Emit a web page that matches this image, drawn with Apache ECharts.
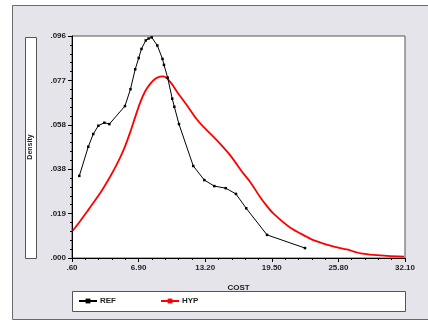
<!DOCTYPE html>
<html>
<head>
<meta charset="utf-8">
<script src="https://cdn.jsdelivr.net/npm/echarts@6/dist/echarts.min.js"></script>
<style>
html,body{margin:0;padding:0;background:#fff;}
#chart{width:428px;height:325px;}
</style>
</head>
<body>
<div id="chart"></div>
<script>
// REF series (cost, density)
const refX = [1.29, 2.14, 2.61, 3.09, 3.66, 4.13, 5.61, 6.13, 6.58, 6.91, 7.17, 7.58, 7.84, 8.14, 8.67, 9.16, 9.30, 9.65, 10.08, 10.28, 10.72, 12.07, 13.12, 14.06, 15.14, 16.11, 17.08, 19.05, 22.64];
const refY = [0.0355, 0.0481, 0.0536, 0.0572, 0.0585, 0.0579, 0.0657, 0.0730, 0.0816, 0.0865, 0.0904, 0.0941, 0.0949, 0.0954, 0.0919, 0.0861, 0.0835, 0.0780, 0.0689, 0.0654, 0.0579, 0.0398, 0.0337, 0.0311, 0.0302, 0.0277, 0.0215, 0.0100, 0.0043];
// HYP series (cost, density)
const hypX = [0.67, 1.36, 2.05, 2.94, 3.56, 4.19, 4.98, 5.61, 6.09, 6.56, 7.03, 7.51, 7.98, 8.45, 8.93, 9.21, 9.59, 10.06, 10.53, 11.45, 12.40, 13.02, 14.29, 15.55, 16.80, 17.44, 18.39, 19.08, 19.64, 21.22, 22.80, 23.49, 24.69, 25.70, 26.59, 27.91, 30.43, 32.01];
const hypY = [0.0118, 0.0159, 0.0202, 0.0259, 0.0302, 0.0350, 0.0418, 0.0482, 0.0542, 0.0607, 0.0670, 0.0720, 0.0752, 0.0774, 0.0784, 0.0785, 0.0777, 0.0752, 0.0719, 0.0662, 0.0600, 0.0568, 0.0510, 0.0445, 0.0366, 0.0330, 0.0264, 0.0222, 0.0193, 0.0132, 0.0092, 0.0076, 0.0058, 0.0046, 0.0037, 0.0020, 0.0009, 0.0006];
// tick labels
const xTickLabels = ['.60', '6.90', '13.20', '19.50', '25.80', '32.10'];
const yTickLabels = ['.000', '.019', '.038', '.058', '.077', '.096'];
const seriesNames = ['REF', 'HYP'];

const refData = refX.map((x, i) => [x, refY[i]]);
const hypData = hypX.map((x, i) => [x, hypY[i]]);

const chart = echarts.init(document.getElementById('chart'), null, {renderer: 'canvas'});
const font = 'Liberation Sans, Arial, sans-serif';
chart.setOption({
  animation: false,
  backgroundColor: '#ffffff',
  graphic: [
    {type: 'rect', z: -10, shape: {x: 12.5, y: 5.5, width: 420, height: 314}, style: {fill: '#E6E4EB', stroke: '#6a6a6a', lineWidth: 1}},
    {type: 'rect', z: -5, shape: {x: 25.5, y: 37.5, width: 11, height: 221}, style: {fill: '#ffffff', stroke: '#555555', lineWidth: 1}},
    {type: 'rect', z: -5, shape: {x: 72.5, y: 291.5, width: 333, height: 20}, style: {fill: '#ffffff', stroke: '#555555', lineWidth: 1}}
  ],
  grid: {left: 72, right: 23, top: 36, bottom: 67, show: true, backgroundColor: '#ffffff', borderColor: '#555555', borderWidth: 1},
  legend: {
    data: seriesNames,
    left: 78, top: 297,
    itemWidth: 18, itemHeight: 6, itemGap: 44,
    padding: 0,
    textStyle: {fontFamily: font, fontWeight: 'bold', fontSize: 8, color: '#222', padding: [0, 0, 0, -2]}
  },
  xAxis: [
    {
      type: 'value', min: 0, max: 5, interval: 1,
      name: 'COST', nameLocation: 'middle', nameGap: 26,
      nameTextStyle: {fontFamily: font, fontWeight: 'bold', fontSize: 8, color: '#222'},
      axisLine: {show: true, lineStyle: {color: '#000', width: 1}},
      axisTick: {show: true, length: 4, lineStyle: {color: '#000'}},
      minorTick: {show: true, splitNumber: 5, length: 2, lineStyle: {color: '#000'}},
      splitLine: {show: false},
      axisLabel: {fontFamily: font, fontWeight: 'bold', fontSize: 8, color: '#222', margin: 6,
        formatter: (v, i) => xTickLabels[i]}
    },
    {
      type: 'value', min: 0.6, max: 32.1, show: false
    }
  ],
  yAxis: {
    type: 'value', min: 0, max: 0.096, interval: 0.0192,
    name: 'Density', nameLocation: 'middle', nameGap: 38, nameRotate: 90,
    nameTextStyle: {fontFamily: font, fontWeight: 'bold', fontSize: 7, color: '#222'},
    axisLine: {show: true, lineStyle: {color: '#000', width: 1}},
    axisTick: {show: true, length: 4, lineStyle: {color: '#000'}},
    minorTick: {show: true, splitNumber: 5, length: 2, lineStyle: {color: '#000'}},
    splitLine: {show: false},
    axisLabel: {fontFamily: font, fontWeight: 'bold', fontSize: 8, color: '#222', margin: 6,
      formatter: (v, i) => yTickLabels[i]}
  },
  series: [
    {
      name: seriesNames[0], type: 'line', xAxisIndex: 1, data: refData,
      symbol: 'rect', symbolSize: 2.5, showSymbol: true,
      lineStyle: {color: '#000', width: 1}, itemStyle: {color: '#000'}, z: 3
    },
    {
      name: seriesNames[1], type: 'line', xAxisIndex: 1, data: hypData, smooth: 0.3,
      symbol: 'rect', symbolSize: 2, showSymbol: false,
      lineStyle: {color: '#ff0000', width: 1.8}, itemStyle: {color: '#ff0000'}, z: 2
    }
  ]
});
</script>
</body>
</html>
